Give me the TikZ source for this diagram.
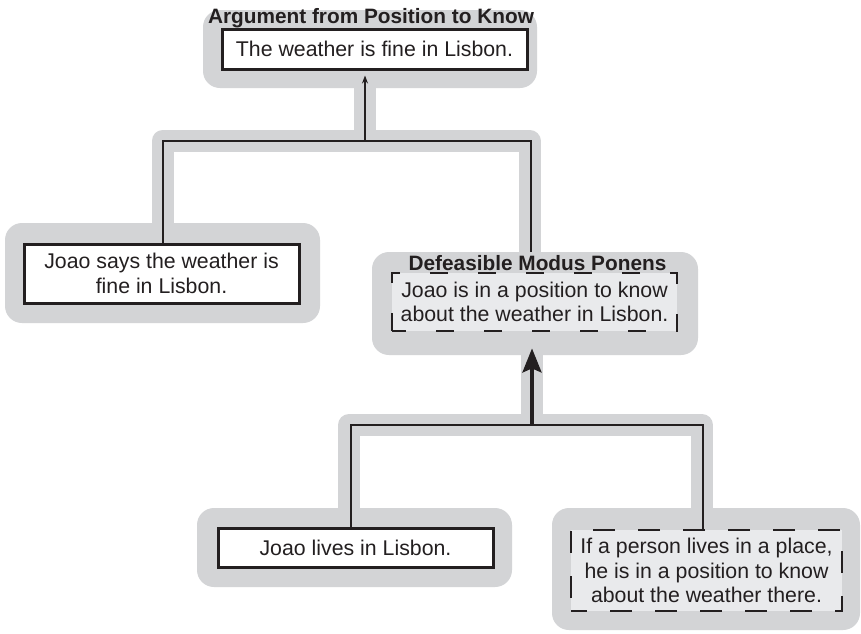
\documentclass[tikz,border=0pt]{standalone}
\usepackage{fontspec}
\setmainfont{Liberation Sans}
\usetikzlibrary{arrows.meta}
\definecolor{bandgrey}{HTML}{D3D4D6}
\definecolor{boxfill}{HTML}{E9EAEC}
\definecolor{ink}{HTML}{231F20}
\begin{document}
\begin{tikzpicture}[x=1pt,y=-1pt,
  backdrop/.style={fill=bandgrey, rounded corners=17pt, inner sep=0pt},
  txt/.style={font=\fontsize{21.3}{24.5}\selectfont, text=ink, align=center, inner sep=0pt},
  solidbox/.style={txt, draw=ink, line width=3pt, fill=white},
  dashbox/.style={txt, draw=ink, fill=boxfill},
  heading/.style={font=\bfseries\fontsize{20.8}{24}\selectfont, text=ink, anchor=base, inner sep=0pt},
  band/.style={draw=bandgrey, line width=22pt, line join=round},
  wire/.style={draw=ink, line width=1.2pt}]
\fill[white] (0,0) rectangle (861,633);
\useasboundingbox (0,0) rectangle (861,633);

% grey backdrops
\node[backdrop, minimum width=334pt, minimum height=78pt] (topgrey) at (370,49) {};
\node[backdrop, minimum width=315pt, minimum height=100pt] (leftgrey) at (162.5,273) {};
\node[backdrop, minimum width=326pt, minimum height=103pt] (dmpgrey) at (535,303.5) {};
\node[backdrop, minimum width=315pt, minimum height=79pt] (livesgrey) at (354.5,547.5) {};
\node[backdrop, minimum width=308pt, minimum height=122pt] (ifgrey) at (706,569) {};

% junctions
\coordinate (j1) at (365,141);
\coordinate (j2) at (532,425);

% grey bands
\draw[band] (leftgrey.north) |- (j1) -| ([xshift=-5.5pt]dmpgrey.north);
\draw[band] (j1) -- (j1 |- topgrey.south);
\draw[band] ([xshift=-5.5pt]livesgrey.north) |- (j2) -| ([xshift=-4pt]ifgrey.north);
\draw[band] (j2) -- (j2 |- dmpgrey.south);

% boxes
\node[solidbox, minimum width=305pt, minimum height=40pt] (topbox) at (374.5,49) {The weather is fine in Lisbon.};
\node[heading] (toptitle) at (371,23) {Argument from Position to Know};
\node[solidbox, minimum width=275pt, minimum height=59pt] (leftbox) at (161.5,273.5) {Joao says the weather is\\fine in Lisbon.};
\node[dashbox, line width=2.8pt, dash pattern=on 18pt off 30pt, dash phase=4pt, minimum width=285pt, minimum height=58pt] (dmpbox) at (534.5,302) {Joao is in a position to know\\about the weather in Lisbon.};
\node[heading] (dmptitle) at (537.5,270) {Defeasible Modus Ponens};
\node[solidbox, minimum width=275pt, minimum height=39pt] (livesbox) at (355.5,547.5) {Joao lives in Lisbon.};
\node[dashbox, line width=1.6pt, dash pattern=on 22pt off 23pt, dash phase=6pt, minimum width=271pt, minimum height=81pt] (ifbox) at (706.5,570.5) {If a person lives in a place,\\he is in a position to know\\about the weather there.};

% wires
\draw[wire] ([xshift=1.5pt]leftbox.north) |- (j1) -| ([xshift=-4pt]dmpgrey.north);
\draw[wire, -{Stealth[length=8pt,width=6pt]}, shorten >=5pt] (j1) -- (j1 |- topbox.south);
\draw[wire] ([xshift=-4.5pt]livesbox.north) |- (j2) -| ([xshift=-3.5pt]ifbox.north);
\draw[draw=ink, line width=3.5pt, -{Stealth[length=24pt,width=19pt,inset=4pt]}, shorten >=16pt] (j2) -- (j2 |- dmpbox.south);
\end{tikzpicture}
\end{document}
